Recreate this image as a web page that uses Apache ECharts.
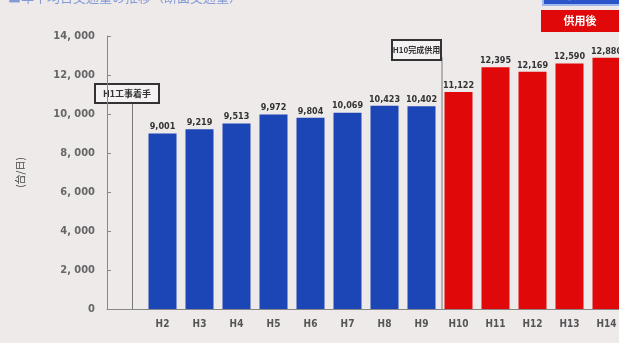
<!DOCTYPE html>
<html><head><meta charset="utf-8">
<script src="https://cdn.jsdelivr.net/npm/echarts@6/dist/echarts.min.js"></script>
<style>html,body{margin:0;padding:0;background:#eeeaea;overflow:hidden}#c{width:632px;height:343px}</style>
</head><body><div id="c"></div>
<script>
const categories = ["", "H2","H3","H4","H5","H6","H7","H8","H9","H10","H11","H12","H13","H14"];
const beforeValues = [null, 9001, 9219, 9513, 9972, 9804, 10069, 10423, 10402, null, null, null, null, null];
const afterValues  = [null, null, null, null, null, null, null, null, null, 11122, 12395, 12169, 12590, 12880];
const yTicks = [0, 2000, 4000, 6000, 8000, 10000, 12000, 14000];
const yAxisName = "(台/日)";
const note1 = "H1工事着手";
const note2 = "H10完成供用";
const legendBefore = "供用前";
const legendAfter = "供用後";
const titleText = "■年平均日交通量の推移（断面交通量）";

const chart = echarts.init(document.getElementById('c'));
const fmt = v => v.toLocaleString('en-US');
const labelCfg = {show:true, position:'top', distance:2, color:'#333', fontSize:9, fontWeight:'bold',
  fontFamily:'DejaVu Sans Condensed', formatter: p => fmt(p.value)};
chart.setOption({
  backgroundColor:'#eeeaea',
  animation:false,
  grid:{left:107, top:36, width:518, bottom:34},
  xAxis:{type:'category', data:categories, boundaryGap:true,
    axisLine:{lineStyle:{color:'#888', width:1}}, axisTick:{show:false},
    axisLabel:{color:'#555', fontSize:10, fontWeight:'bold', fontFamily:'DejaVu Sans Condensed', margin:10}},
  yAxis:{type:'value', min:0, max:14000, interval:2000,
    axisLine:{show:true, lineStyle:{color:'#888'}},
    axisTick:{show:true, inside:true, length:4, lineStyle:{color:'#888'}},
    splitLine:{show:false},
    axisLabel:{color:'#666', fontSize:11, fontWeight:'bold', fontFamily:'DejaVu Sans Condensed', margin:12,
      formatter: v => v===0 ? '0' : fmt(v).replace(',', ', ')},
    name:yAxisName, nameLocation:'middle', nameGap:82, nameRotate:90,
    nameTextStyle:{color:'#444', fontSize:10, fontFamily:'Noto Sans CJK JP'}},
  series:[
    {type:'bar', data:beforeValues, barWidth:28, barGap:'-100%', itemStyle:{color:'#1c45b5'}, label:labelCfg},
    {type:'bar', data:afterValues, barWidth:28, itemStyle:{color:'#e00808'}, label:labelCfg}
  ]
});
const p0 = chart.convertToPixel({gridIndex:0}, [0, 0]);
const p9 = chart.convertToPixel({gridIndex:0}, [8, 0]);
const p10 = chart.convertToPixel({gridIndex:0}, [9, 0]);
const pTop1 = chart.convertToPixel({gridIndex:0}, [0, 10000]);
const pTop2 = chart.convertToPixel({gridIndex:0}, [0, 12600]);
const x1 = p0[0] + 7;
const x2 = (p9[0] + p10[0]) / 2 + 2;
const boxStyle = {fill:'#f4f2f2', stroke:'#333', lineWidth:2};
const tStyle = {fill:'#333', fontSize:9, fontWeight:'bold', fontFamily:'Noto Sans CJK JP', align:'center', verticalAlign:'middle'};
chart.setOption({graphic:[
  {type:'text', left:8, top:-9, style:{text:titleText, fill:'#3a66c8', fontSize:13, fontFamily:'Noto Sans CJK JP', opacity:0.6}},
  {type:'line', shape:{x1:x1, y1:pTop1[1]-10, x2:x1, y2:p0[1]}, style:{stroke:'#777', lineWidth:1}},
  {type:'line', shape:{x1:x2, y1:pTop2[1]-6, x2:x2, y2:p0[1]}, style:{stroke:'#777', lineWidth:1}},
  {type:'rect', shape:{x:95, y:84, width:64, height:19}, style:boxStyle},
  {type:'text', x:127, y:93.5, style:Object.assign({text:note1}, tStyle)},
  {type:'rect', shape:{x:392, y:40, width:49, height:20}, style:boxStyle},
  {type:'text', x:416.5, y:50, style:Object.assign({text:note2}, tStyle, {fontSize:8})},
  {type:'rect', shape:{x:543, y:-14, width:80, height:19}, style:{fill:'#2a55c8', stroke:'#9fb8ee', lineWidth:2}},
  {type:'text', x:581, y:-4, style:Object.assign({text:legendBefore}, tStyle, {fill:'#fff'})},
  {type:'rect', shape:{x:541, y:10, width:82, height:22}, style:{fill:'#e00808'}},
  {type:'text', x:580, y:21, style:Object.assign({text:legendAfter}, tStyle, {fill:'#fff', fontSize:11})}
]});
</script></body></html>
